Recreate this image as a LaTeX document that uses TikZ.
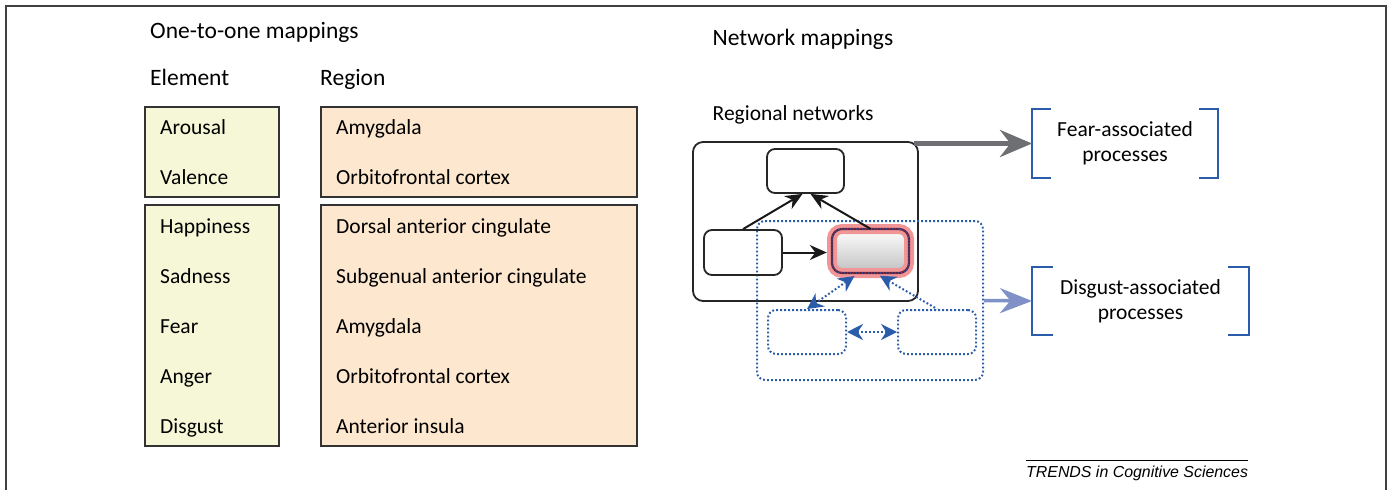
\documentclass[tikz,border=0pt]{standalone}
\usepackage{fontspec}
\setmainfont{Carlito}
\newfontfamily\trendsfont{Liberation Sans}
\usetikzlibrary{positioning, arrows.meta}

\definecolor{elemfill}{RGB}{245,247,215}
\definecolor{regfill}{RGB}{253,231,207}
\definecolor{netblue}{RGB}{42,92,170}
\definecolor{glowred}{RGB}{240,150,150}
\definecolor{hotred}{RGB}{105,30,55}
\definecolor{arrgray}{RGB}{110,111,114}
\definecolor{arrblue}{RGB}{128,145,200}

\tikzset{
	listbox/.style={draw=black!80, line width=2pt},
	lbl/.style={anchor=base west, inner sep=0pt, font=\fontsize{21.5}{26}\selectfont},
	head/.style={anchor=base west, inner sep=0pt, font=\fontsize{23.5}{28}\selectfont},
	netbox/.style={draw=black!85, line width=1.8pt, rounded corners=8pt, minimum width=77pt, minimum height=44pt},
	dotbox/.style={draw=netblue, dash pattern=on 1.8pt off 2.2pt, line width=2pt, rounded corners=8pt},
	blackarr/.style={draw=black!90, line width=2pt, -{Stealth[length=17pt, width=15pt]}},
	bluearr/.style={draw=netblue, dash pattern=on 1.8pt off 2.2pt, line width=2pt, {Stealth[length=16pt, width=16pt, fill=netblue]}-{Stealth[length=16pt, width=16pt, fill=netblue]}},
	bracket/.style={draw=netblue, line width=2.2pt},
	brk/.style={outer sep=0pt, align=center, font=\fontsize{21.5}{25}\selectfont}
}

\begin{document}
\begin{tikzpicture}[x=1pt, y=-1pt]

	\useasboundingbox (0,0) rectangle (1388,490);
	% Open frame round the figure
	\draw[black!75, line width=2pt] (6,490) -- (6,6) -- (1386,6) -- (1386,490);

	% One-to-one mappings
	\node[head] (onetoone) at (150,38.5) {One-to-one mappings};
	\node[head] (elemhead) at (150,85) {Element};
	\node[head] (reghead) at (320,85) {Region};

	% Element and region boxes
	\node[listbox, fill=elemfill, minimum width=134pt, minimum height=90pt] (elemA) at (212,152) {};
	\node[listbox, fill=elemfill, minimum width=134pt, minimum height=241pt] (elemB) at (212,325.5) {};
	\node[listbox, fill=regfill, minimum width=316pt, minimum height=90pt] (regA) at (479,152) {};
	\node[listbox, fill=regfill, minimum width=316pt, minimum height=241pt] (regB) at (479,325.5) {};

	% Elements
	\node[lbl] (arousal) at (160,134) {Arousal};
	\node[lbl] (valence) at (160,184) {Valence};
	\node[lbl] (happy) at (160,233.5) {Happiness};
	\node[lbl] (sad) at (160,283.5) {Sadness};
	\node[lbl] (fear) at (160,333.5) {Fear};
	\node[lbl] (anger) at (160,383.5) {Anger};
	\node[lbl] (disgust) at (160,433.5) {Disgust};

	% Regions
	\node[lbl] (amyA) at (336,134) {Amygdala};
	\node[lbl] (ofcA) at (336,184) {Orbitofrontal cortex};
	\node[lbl] (dacc) at (336,233.5) {Dorsal anterior cingulate};
	\node[lbl] (sgacc) at (336,283.5) {Subgenual anterior cingulate};
	\node[lbl] (amyB) at (336,333.5) {Amygdala};
	\node[lbl] (ofcB) at (336,383.5) {Orbitofrontal cortex};
	\node[lbl] (insula) at (336,433.5) {Anterior insula};

	% Network mappings
	\node[head] (nethead) at (712.5,45) {Network mappings};
	\node[lbl] (reghnet) at (712.5,120) {Regional networks};

	% Regional network boxes
	\node[netbox, rounded corners=10pt, minimum width=225pt, minimum height=159pt] (net) at (805.5,221.5) {};
	\node[dotbox, minimum width=226pt, minimum height=159pt] (dgroup) at (870,300.5) {};
	\node[netbox] (hub) at (805.5,171) {};
	\node[netbox, minimum width=78pt, minimum height=45pt] (inA) at (743,252.5) {};
	\node[dotbox, minimum width=78pt, minimum height=44pt] (dA) at (807,332) {};
	\node[dotbox, minimum width=78pt, minimum height=44pt, right=50pt of dA] (dB) {};

	% Highlighted region
	\node[rounded corners=10pt, minimum width=77pt, minimum height=44pt,
		top color=white, bottom color=black!25,
		postaction={draw=glowred, line width=10pt},
		postaction={draw=hotred, line width=2.2pt},
		postaction={draw=netblue, dash pattern=on 1.2pt off 1.8pt, line width=1.2pt}] (hot) at (870.5,251) {};

	% Connections inside the networks
	\draw[blackarr] (inA.north) -- ([xshift=-3pt]hub.south);
	\draw[blackarr] (hot.north) -- ([xshift=5pt]hub.south);
	\draw[blackarr, shorten >=5pt] (inA.east) -- (inA.east -| hot.west);
	\draw[bluearr, shorten <=5pt] ([xshift=-12pt]hot.south) -- (dA.north);
	\draw[bluearr, {Stealth[length=16pt, width=16pt, fill=netblue]}-, shorten <=5pt] ([xshift=5pt]hot.south) -- (dB.north);
	\draw[bluearr] (dA.east) -- (dB.west);

	% Associated processes
	\node[brk, minimum width=186pt, minimum height=69pt] (fearB) at (1125,143.5) {Fear-associated\\processes};
	\node[brk, minimum width=217pt, minimum height=68pt] (disgB) at (1140.5,301) {Disgust-associated\\processes};
	\draw[bracket] ([xshift=19pt]fearB.north west) -- (fearB.north west) -- (fearB.south west) -- ([xshift=19pt]fearB.south west);
	\draw[bracket] ([xshift=-19pt]fearB.north east) -- (fearB.north east) -- (fearB.south east) -- ([xshift=-19pt]fearB.south east);
	\draw[bracket] ([xshift=21pt]disgB.north west) -- (disgB.north west) -- (disgB.south west) -- ([xshift=21pt]disgB.south west);
	\draw[bracket] ([xshift=-21pt]disgB.north east) -- (disgB.north east) -- (disgB.south east) -- ([xshift=-21pt]disgB.south east);

	% Network to process arrows
	\draw[arrgray, line width=5pt, -{Stealth[length=32pt, width=27pt]}] ([xshift=-5pt]net.east |- fearB.west) -- (fearB.west);
	\draw[arrblue, line width=3.5pt, -{Stealth[length=32pt, width=25pt]}] (dgroup.east) -- (disgB.west);

	% Journal tag
	\node[anchor=base west, inner sep=0pt, font=\trendsfont\itshape\fontsize{15.9}{19}\selectfont] (trends) at (1026,477.3) {TRENDS in Cognitive Sciences};
	\draw[line width=0.8pt] ([yshift=5pt]trends.north west) -- ([yshift=5pt]trends.north east);

\end{tikzpicture}
\end{document}
